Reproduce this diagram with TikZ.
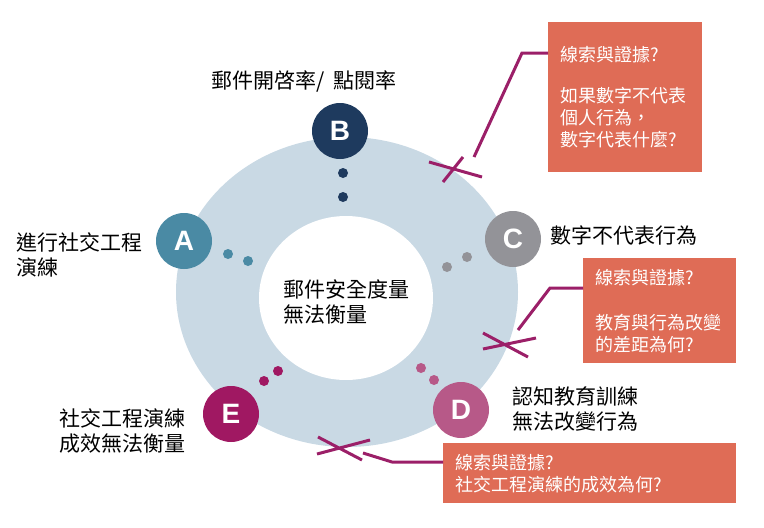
\documentclass[tikz,border=0pt]{standalone}
\usepackage{fontspec}
\setmainfont{Liberation Sans}
\newfontfamily\cjk{Noto Sans CJK TC}
\definecolor{ringblue}{RGB}{201,217,228}
\definecolor{colA}{RGB}{74,138,164}
\definecolor{colB}{RGB}{30,58,94}
\definecolor{colC}{RGB}{147,147,152}
\definecolor{colD}{RGB}{183,89,136}
\definecolor{colE}{RGB}{160,24,98}
\definecolor{boxred}{RGB}{223,108,86}
\definecolor{linkred}{RGB}{155,31,104}
\begin{document}
\begin{tikzpicture}[x=1pt,y=-1pt,
	letter/.style={circle, minimum size=56pt, inner sep=0pt, text=white, font=\fontsize{28}{30}\selectfont\bfseries},
	txt/.style={inner sep=0pt, align=left, font=\cjk\fontsize{21}{25}\selectfont},
	qbox/.style={fill=boxred, text=white, inner xsep=12pt, inner ysep=0pt, anchor=north west, align=left, font=\cjk\fontsize{18}{22}\selectfont},
	link/.style={draw=linkred, line width=3pt}]
	\useasboundingbox (0,0) rectangle (764,528);
	%ring
	\fill[ringblue] (347,292) ellipse [x radius=171, y radius=155];
	\fill[white] (346,298) ellipse [x radius=87, y radius=82];
	\node[txt, anchor=west] (mid) at (283,302) {郵件安全度量\\無法衡量};
	%dots
	\foreach \px/\py/\c in {228/254/colA, 248/261/colA, 343/173/colB, 343/197/colB,
		467/257/colC, 447/267/colC, 421/368/colD, 434/380/colD, 278/371/colE, 264/381/colE}
	\fill[\c] (\px,\py) circle (5);
	%circles
	\foreach \n/\px/\py/\c in {A/184/241/colA, B/340/131/colB, C/513/239/colC, D/461/410/colD, E/231/414/colE}
	\node[letter, fill=\c] (\n) at (\px,\py) {\n};
	%labels
	\node[txt] (labB) at (304,81) {郵件開啓率/ \ 點閱率};
	\node[txt, anchor=west] (labA) at (16,255) {進行社交工程\\演練};
	\node[txt, anchor=west] (labC) at (550,235) {數字不代表行為};
	\node[txt, anchor=west] (labD) at (512,409) {認知教育訓練\\無法改變行為};
	\node[txt, anchor=west] (labE) at (59,431) {社交工程演練\\成效無法衡量};
	%boxes
	\node[qbox, text width=130pt, minimum height=150pt] (q1) at (548,22)
	{線索與證據?\\[19pt]如果數字不代表\\個人行為，\\數字代表什麼?};
	\node[qbox, text width=129pt, minimum height=105pt] (q2) at (583,258)
	{線索與證據?\\[23pt]教育與行為改變\\的差距為何?};
	\node[qbox, text width=269pt, minimum height=60pt] (q3) at (443,443)
	{線索與證據?\\社交工程演練的成效為何?};
	%links
	\coordinate (k1) at (522,53);
	\coordinate (x1) at (474,157);
	\coordinate (k2) at (550,288);
	\coordinate (x2) at (518,330);
	\coordinate (k3) at (392,462);
	\coordinate (x3) at (363,453);
	\draw[link] (q1.west |- k1) -- (k1) -- (x1);
	\draw[link] (q2.west |- k2) -- (k2) -- (x2);
	\draw[link] (q3.west |- k3) -- (k3) -- (x3);
	%crosses
	\draw[link] (429,162) -- (482,177) (443,182) -- (463,157);
	\draw[link] (483,349) -- (536,338) (483,333) -- (528,357);
	\draw[link] (317,454) -- (370,440) (318,437) -- (362,460);
\end{tikzpicture}
\end{document}
